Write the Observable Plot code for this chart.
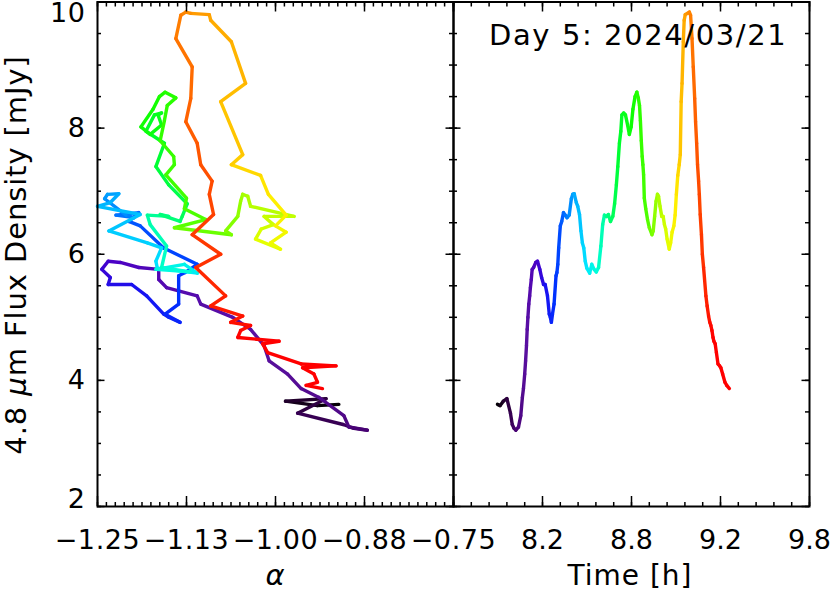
<!DOCTYPE html>
<html><head><meta charset="utf-8">
<script src="https://cdn.jsdelivr.net/npm/d3@7"></script>
<script src="https://cdn.jsdelivr.net/npm/@observablehq/plot@0.6"></script>
<style>
body{margin:0;background:#fff;}
#wrap{position:relative;width:830px;height:593px;overflow:hidden;background:#fff;}
#wrap svg{position:absolute;left:0;top:0;}
</style></head><body><div id="wrap"></div>
<script>
// ---- data ----
const time = [
7.997,8.012,8.030,8.050,8.070,8.080,8.090,8.100,8.115,8.128,
8.137,8.143,8.150,8.155,8.160,8.164,8.168,8.173,8.178,8.182,
8.187,8.192,8.200,8.212,8.222,8.235,8.245,8.256,8.265,8.278,
8.288,8.294,8.300,8.306,8.315,8.326,8.331,8.336,8.341,8.350,
8.358,8.368,8.378,8.388,8.400,8.412,8.420,8.428,8.440,8.448,
8.458,8.466,8.474,8.482,8.490,8.499,8.515,8.527,8.540,8.552,
8.565,8.578,8.588,8.598,8.610,8.620,8.632,8.645,8.655,8.665,
8.673,8.682,8.690,8.696,8.706,8.716,8.728,8.738,8.748,8.758,
8.770,8.780,8.788,8.795,8.800,8.805,8.810,8.814,8.818,8.822,
8.830,8.840,8.850,8.865,8.872,8.880,8.888,8.896,8.902,8.910,
8.920,8.928,8.935,8.942,8.950,8.962,8.970,8.978,8.988,8.995,
9.002,9.010,9.018,9.024,9.029,9.034,9.041,9.046,9.052,9.065,
9.075,9.082,9.090,9.097,9.105,9.110,9.116,9.121,9.127,9.131,
9.136,9.143,9.148,9.155,9.168,9.175,9.183,9.190,9.196,9.202,
9.208,9.213,9.220,9.227,9.236,9.245,9.252,9.262,9.275,9.285,
9.300];
const flux = [
3.62,3.60,3.67,3.71,3.48,3.30,3.24,3.21,3.26,3.44,
3.73,3.87,4.10,4.31,4.55,4.81,5.00,5.21,5.34,5.47,
5.60,5.76,5.79,5.87,5.89,5.76,5.63,5.52,5.52,5.34,
5.05,5.00,4.92,5.05,5.21,5.66,5.71,5.84,6.10,6.45,
6.52,6.66,6.62,6.58,6.62,6.88,6.95,6.96,6.82,6.76,
6.63,6.37,6.18,6.10,5.89,5.78,5.70,5.84,5.76,5.72,
5.79,6.13,6.47,6.62,6.60,6.63,6.52,6.60,6.80,7.10,
7.39,7.76,7.95,8.21,8.24,8.21,8.05,7.90,8.02,8.30,
8.50,8.57,8.48,8.36,8.12,7.80,7.55,7.42,7.26,6.89,
6.72,6.55,6.42,6.31,6.37,6.60,6.84,6.95,6.92,6.76,
6.60,6.60,6.47,6.40,6.24,6.08,6.18,6.35,6.45,6.62,
6.95,7.25,7.42,7.58,8.42,8.71,9.37,9.71,9.80,9.82,
9.84,9.79,9.42,8.97,8.47,8.10,7.76,7.42,7.16,6.95,
6.63,6.31,6.00,5.79,5.34,5.18,5.02,4.92,4.87,4.79,
4.68,4.62,4.58,4.44,4.26,4.23,4.20,4.10,3.97,3.92,
3.87];
const alpha = [
-0.911,-0.941,-0.986,-0.929,-0.969,-0.905,-0.890,-0.871,-0.897,-0.904,
-0.939,-0.964,-0.983,-1.009,-1.016,-1.035,-1.060,-1.105,-1.110,-1.153,
-1.164,-1.164,-1.192,-1.218,-1.235,-1.244,-1.232,-1.235,-1.202,-1.181,
-1.157,-1.150,-1.134,-1.155,-1.136,-1.136,-1.127,-1.110,-1.157,-1.190,
-1.206,-1.192,-1.224,-1.199,-1.210,-1.240,-1.236,-1.220,-1.232,-1.250,
-1.190,-1.234,-1.180,-1.160,-1.168,-1.166,-1.110,-1.128,-1.168,-1.120,
-1.160,-1.153,-1.176,-1.180,-1.150,-1.162,-1.134,-1.131,-1.124,-1.150,
-1.168,-1.156,-1.182,-1.170,-1.160,-1.165,-1.160,-1.176,-1.189,-1.172,
-1.163,-1.155,-1.140,-1.152,-1.156,-1.162,-1.143,-1.142,-1.154,-1.125,
-1.128,-1.098,-1.142,-1.062,-1.070,-1.053,-1.049,-1.046,-1.039,-1.035,
-0.974,-1.016,-1.003,-1.020,-1.028,-0.993,-1.007,-0.985,-1.000,-0.985,
-1.010,-1.021,-1.062,-1.046,-1.077,-1.042,-1.062,-1.091,-1.093,-1.119,
-1.126,-1.133,-1.140,-1.117,-1.119,-1.126,-1.110,-1.105,-1.089,-1.093,
-1.087,-1.117,-1.077,-1.112,-1.070,-1.091,-1.046,-1.063,-1.035,-1.049,
-1.053,-0.995,-1.018,-1.011,-0.964,-0.915,-0.962,-0.946,-0.941,-0.957,
-0.934];

// tick values and labels
const alphaTicks = [-1.25, -1.125, -1.0, -0.875, -0.75];
const alphaTickLabels = ["\u22121.25", "\u22121.13", "\u22121.00", "\u22120.88", "\u22120.75"];
const timeTicks = [7.75, 8.25, 8.75, 9.25, 9.75];
const timeTickLabels = ["", "8.2", "8.8", "9.2", "9.8"];
const fluxTicks = [2, 4, 6, 8, 10];
const fluxTickLabels = ["2", "4", "6", "8", "10"];

// ---- layout ----
const FONT = '"DejaVu Sans", sans-serif';
const W = 830, H = 593, MT = 1.5, MB = 87;
const hP = H - MT - MB;
const L1 = 97, R1 = 453, R2 = 809;

const segs = d3.range(time.length - 1).map(i => ({
  a1: alpha[i], a2: alpha[i + 1], t1: time[i], t2: time[i + 1],
  f1: flux[i], f2: flux[i + 1], tm: (time[i] + time[i + 1]) / 2
}));

const colorScale = {
  type: "linear",
  domain: [7.997, 8.05, 8.10, 8.16, 8.22, 8.27, 8.32, 8.38, 8.43, 8.50, 8.56, 8.62, 8.68, 8.76, 8.84, 8.90, 8.96, 9.00, 9.04, 9.07, 9.11, 9.16, 9.21, 9.30],
  range: ["#000000", "#2a0038", "#45006e", "#5a10a0", "#4a00c8", "#1a10f0", "#0030ff", "#0070ff", "#00a8ff", "#00e8ff", "#00ffd8", "#00ff80", "#00ff30", "#10ff00", "#50ff00", "#a8ff00", "#e8ff00", "#ffee00", "#ffb000", "#ff9000", "#ff6000", "#ff2800", "#ff0000", "#ff0000"],
  interpolate: "rgb"
};

const alphaMinor = d3.range(0, 41).map(i => -1.25 + i * 0.0125);
const timeMinor = d3.range(0, 21).map(i => 7.75 + i * 0.1);
const fluxMinor = d3.range(0, 17).map(i => 2 + i * 0.5);

function tickMarks(xMaj, xMin, wP) {
  const s = {stroke: "black", strokeWidth: 1.5};
  return [
    Plot.ruleX(xMaj, {x: d => d, insetTop: hP - 10, ...s}),
    Plot.ruleX(xMin, {x: d => d, insetTop: hP - 4, ...s}),
    Plot.ruleX(xMaj, {x: d => d, insetBottom: hP - 10, ...s}),
    Plot.ruleX(xMin, {x: d => d, insetBottom: hP - 5, ...s}),
    Plot.ruleY(fluxTicks, {y: d => d, insetRight: wP - 7.5, ...s}),
    Plot.ruleY(fluxMinor, {y: d => d, insetRight: wP - 4, ...s}),
    Plot.ruleY(fluxTicks, {y: d => d, insetLeft: wP - 7.5, ...s}),
    Plot.ruleY(fluxMinor, {y: d => d, insetLeft: wP - 4, ...s}),
    Plot.frame({stroke: "black", strokeWidth: 2})
  ];
}

const styleL = {fontSize: "27px", fontFamily: FONT, background: "transparent", overflow: "visible", color: "black", letterSpacing: "0.6px"};
const styleR = {fontSize: "27px", fontFamily: FONT, background: "transparent", overflow: "visible", color: "black"};

const fluxIdxMid = [1, 2, 3];
const left = Plot.plot({
  width: W, height: H,
  marginTop: MT, marginBottom: MB, marginLeft: L1, marginRight: W - R1,
  style: styleL,
  x: {domain: [-1.25, -0.75], ticks: alphaTicks, tickFormat: d => alphaTickLabels[alphaTicks.indexOf(d)], tickSize: 0, tickPadding: 23, label: null},
  y: {domain: [2, 10], axis: null},
  color: colorScale,
  marks: [
    Plot.link(segs, {x1: "a1", y1: "f1", x2: "a2", y2: "f2", stroke: "tm", strokeWidth: 3.4, strokeLinecap: "round", strokeLinejoin: "round"}),
    ...tickMarks(alphaTicks, alphaMinor, R1 - L1),
    // y tick labels (edge labels nudged inward as in the reference)
    Plot.text(fluxIdxMid, {x: () => -1.25, y: i => fluxTicks[i], text: i => fluxTickLabels[i], textAnchor: "end", dx: -12, fill: "black"}),
    Plot.text([4], {x: () => -1.25, y: i => fluxTicks[i], text: i => fluxTickLabels[i], textAnchor: "end", dx: -12, dy: 11, fill: "black"}),
    Plot.text([0], {x: () => -1.25, y: i => fluxTicks[i], text: i => fluxTickLabels[i], textAnchor: "end", dx: -12, dy: -7, fill: "black"})
  ]
});

const right = Plot.plot({
  width: W, height: H,
  marginTop: MT, marginBottom: MB, marginLeft: R1, marginRight: W - R2,
  style: styleR,
  x: {domain: [7.75, 9.75], ticks: timeTicks.slice(1), tickFormat: d => timeTickLabels[timeTicks.indexOf(d)], tickSize: 0, tickPadding: 23, label: null},
  y: {domain: [2, 10], axis: null},
  color: colorScale,
  marks: [
    Plot.link(segs, {x1: "t1", y1: "f1", x2: "t2", y2: "f2", stroke: "tm", strokeWidth: 3.4, strokeLinecap: "round", strokeLinejoin: "round"}),
    ...tickMarks(timeTicks, timeMinor, R2 - R1)
  ]
});

const wrap = document.getElementById("wrap");
wrap.appendChild(left);
wrap.appendChild(right);

const ov = d3.select(wrap).append("svg")
  .attr("width", W).attr("height", H)
  .style("overflow", "visible")
  .attr("font-family", FONT).attr("fill", "black");
ov.append("text").attr("x", 489).attr("y", 45).attr("font-size", 29).attr("letter-spacing", 1.6).text("Day 5: 2024/03/21");
ov.append("text").attr("x", 275).attr("y", 585).attr("text-anchor", "middle").attr("font-size", 29).attr("font-style", "italic").text("\u03b1");
ov.append("text").attr("x", 630).attr("y", 585).attr("text-anchor", "middle").attr("font-size", 28).attr("letter-spacing", 1).text("Time [h]");
const yt = ov.append("text").attr("transform", "translate(26,255) rotate(-90)").attr("text-anchor", "middle").attr("font-size", 29).attr("letter-spacing", 0.9);
yt.append("tspan").text("4.8 ");
yt.append("tspan").attr("font-style", "italic").text("\u03bc");
yt.append("tspan").text("m Flux Density [mJy]");
</script></body></html>
